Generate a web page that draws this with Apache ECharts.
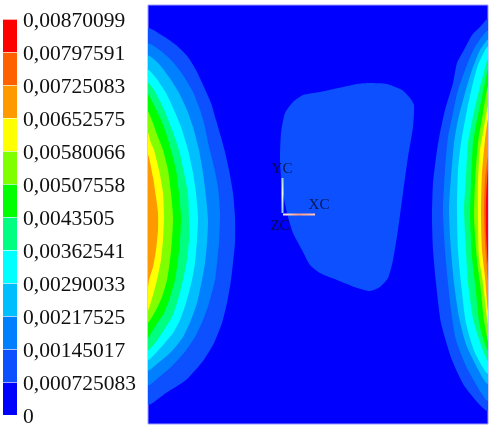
<!DOCTYPE html>
<html><head><meta charset="utf-8">
<style>html,body{margin:0;padding:0;background:#fff}#c{width:493px;height:431px}</style>
<script src="https://cdn.jsdelivr.net/npm/echarts@6/dist/echarts.min.js"></script>
</head><body><div id="c"></div>
<script>
const tickLabels = ['0','0,000725083','0,00145017','0,00217525','0,00290033','0,00362541','0,0043505','0,00507558','0,00580066','0,00652575','0,00725083','0,00797591','0,00870099'];
const bandColors = ['#0000ff','#0c50ff','#0080ff','#00bfff','#00ffff','#00ff80','#00ff00','#80ff00','#ffff00','#ff9900','#ff6000','#ff0000'];
const centerBlob = [[370,83],[387,84],[402,90],[410,98],[414,105],[413,127],[408,157],[403,193],[398,230],[393,260],[388,278],[380,287],[370,291],[357,288],[337,280],[320,273],[310,265],[302,250],[293,233],[287,213],[282,187],[280,160],[281,133],[285,113],[293,102],[303,95],[320,92],[343,87],[357,84]];
const leftLevel1 = [[148,29],[163,36],[176,45],[188,57],[196,70],[204,87],[211,103],[216,120],[221,137],[225,152],[229,170],[233,193],[235,217],[235,243],[233,263],[231,280],[227,303],[222,323],[214,343],[203,361],[186,380],[166,393],[148,404]];
const leftLevel2 = [[148,44],[161,51],[173,62],[183,75],[193,92],[199,107],[204,123],[209,147],[214,167],[218,187],[220,213],[219,243],[217,263],[215,280],[209,303],[203,320],[195,337],[184,353],[171,367],[158,378],[148,385]];
const leftLevel3 = [[148,56],[158,63],[169,77],[179,93],[187,110],[193,127],[199,150],[203,173],[206,197],[208,220],[207,243],[205,263],[202,280],[197,303],[191,320],[183,337],[171,352],[158,363],[148,370]];
const leftLevel4 = [[148,70],[156,78],[166,93],[174,110],[181,127],[188,150],[193,173],[196,193],[198,217],[197,240],[195,263],[192,280],[186,303],[180,320],[173,333],[163,345],[154,355],[148,360]];
const leftLevel5 = [[148,83],[154,90],[163,107],[171,127],[179,150],[184,173],[188,193],[189,217],[189,240],[187,260],[183,280],[178,300],[172,317],[164,330],[156,342],[148,350]];
const leftLevel6 = [[148,95],[154,105],[161,120],[166,133],[171,150],[176,170],[179,193],[181,217],[180,240],[178,260],[175,280],[170,297],[164,313],[156,325],[148,337]];
const leftLevel7 = [[148,112],[153,123],[158,137],[163,150],[168,170],[171,193],[173,217],[172,240],[170,260],[167,280],[162,297],[156,310],[148,322]];
const leftLevel8 = [[148,133],[151,143],[154,150],[159,170],[163,193],[164,217],[163,240],[161,260],[157,280],[153,295],[148,310]];
const leftLevel9 = [[148,155],[153,177],[156,197],[158,213],[158,230],[156,250],[153,267],[149,280],[148,287]];
const rightLevel1 = [[488,19],[480,27],[472,35],[465,48],[457,63],[453,83],[445,110],[440,133],[437,150],[433,183],[432,217],[433,250],[436,283],[441,323],[452,360],[465,387],[488,410]];
const rightLevel2 = [[488,31],[475,47],[467,65],[458,90],[453,113],[448,137],[445,170],[443,210],[445,250],[448,283],[451,310],[456,340],[468,370],[488,400]];
const rightLevel3 = [[488,40],[480,50],[472,70],[465,93],[458,120],[454,143],[451,177],[449,210],[451,250],[454,283],[459,317],[467,347],[488,383]];
const rightLevel4 = [[488,47],[478,65],[472,87],[467,110],[461,143],[458,170],[457,210],[458,250],[461,283],[466,323],[475,353],[488,373]];
const rightLevel5 = [[488,60],[480,87],[475,107],[468,143],[466,177],[464,210],[466,250],[468,283],[474,323],[488,360]];
const rightLevel6 = [[488,70],[482,97],[477,120],[473,143],[471,183],[470,217],[472,257],[475,283],[480,327],[488,350]];
const rightLevel7 = [[488,87],[483,113],[478,143],[475,183],[474,217],[477,260],[480,283],[484,320],[488,340]];
const rightLevel8 = [[488,107],[483,133],[480,150],[478,183],[478,217],[479,257],[483,283],[488,323]];
const rightLevel9 = [[488,120],[485,140],[482,173],[481,210],[482,250],[485,277],[488,310]];
const rightLevel10 = [[488,157],[485,180],[484,210],[485,243],[488,280]];
const rightLevel11 = [[488,170],[486,200],[486,233],[488,263]];
const triadY = [[282.5,213],[282.5,178]];
const triadX = [[283,214.5],[315,214.5]];
const triadText = [[282,169,'YC'],[319,205,'XC'],[280,226,'ZC']];

const shapes = [
  [leftLevel1,1],[leftLevel2,2],[leftLevel3,3],[leftLevel4,4],[leftLevel5,5],
  [leftLevel6,6],[leftLevel7,7],[leftLevel8,8],[leftLevel9,9],
  [rightLevel1,1],[rightLevel2,2],[rightLevel3,3],[rightLevel4,4],[rightLevel5,5],[rightLevel6,6],
  [rightLevel7,7],[rightLevel8,8],[rightLevel9,9],[rightLevel10,10],[rightLevel11,11],
  [centerBlob,1]
];
const serif = '"Liberation Serif","DejaVu Serif",serif';
const bandBars = bandColors.map((c,i)=>({
  name:'band'+i,type:'bar',stack:'scale',xAxisIndex:0,yAxisIndex:0,barWidth:'100%',
  data:[1],itemStyle:{color:c},silent:true,animation:false
}));
function triadLine(points,stops,horizontal){
  return {type:'line',xAxisIndex:1,yAxisIndex:1,data:points,symbol:'none',silent:true,animation:false,z:6,
    lineStyle:{width:2,color:new echarts.graphic.LinearGradient(0,0,horizontal?1:0,horizontal?0:1,stops)}};
}
const option = {
  animation:false,
  backgroundColor:'#fff',
  grid:[
    {left:3,top:19,width:14,height:396,containLabel:false},
    {left:148,top:5,width:340,height:419,show:true,backgroundColor:bandColors[0],borderColor:'#9c9cff',borderWidth:1}
  ],
  xAxis:[
    {gridIndex:0,type:'category',data:[''],show:false},
    {gridIndex:1,type:'value',min:148,max:488,show:false}
  ],
  yAxis:[
    {gridIndex:0,type:'value',min:0,max:12,interval:1,position:'right',z:5,
     axisLine:{show:false},axisTick:{show:false},
     splitLine:{show:true,lineStyle:{color:'rgba(255,255,255,0.65)',width:1}},
     axisLabel:{margin:6,color:'#111',fontFamily:serif,fontSize:21.5,
       formatter:v=>'{t|'+tickLabels[v]+'}',
       rich:{t:{padding:[4,0,0,0],color:'#111',fontFamily:serif,fontSize:21.5}}}},
    {gridIndex:1,type:'value',min:5,max:424,inverse:true,show:false}
  ],
  series:[
    ...bandBars,
    {type:'custom',xAxisIndex:1,yAxisIndex:1,clip:true,silent:true,animation:false,z:3,
     data:shapes.map((s,i)=>[s[0][0][0],s[0][0][1],i]),
     renderItem:(params,api)=>{
       const s=shapes[params.dataIndex];
       return {type:'polygon',shape:{points:s[0].map(p=>api.coord(p)),smooth:.2,smoothConstraint:false},style:{fill:bandColors[s[1]]}};
     }},
    triadLine(triadY,[{offset:0,color:'#8fd8c8'},{offset:.45,color:'#f0fff0'},{offset:1,color:'#70c8e8'}],false),
    triadLine(triadX,[{offset:0,color:'#f8f8ff'},{offset:.5,color:'#ff9a80'},{offset:1,color:'#ffd0d0'}],true),
    {type:'scatter',xAxisIndex:1,yAxisIndex:1,symbolSize:0,silent:true,animation:false,z:7,
     data:triadText,
     label:{show:true,position:'inside',formatter:p=>p.value[2],color:'#0a0a28',fontFamily:serif,fontSize:15}}
  ]
};
const chart = echarts.init(document.getElementById('c'),null,{renderer:'canvas'});
chart.setOption(option);
</script></body></html>
